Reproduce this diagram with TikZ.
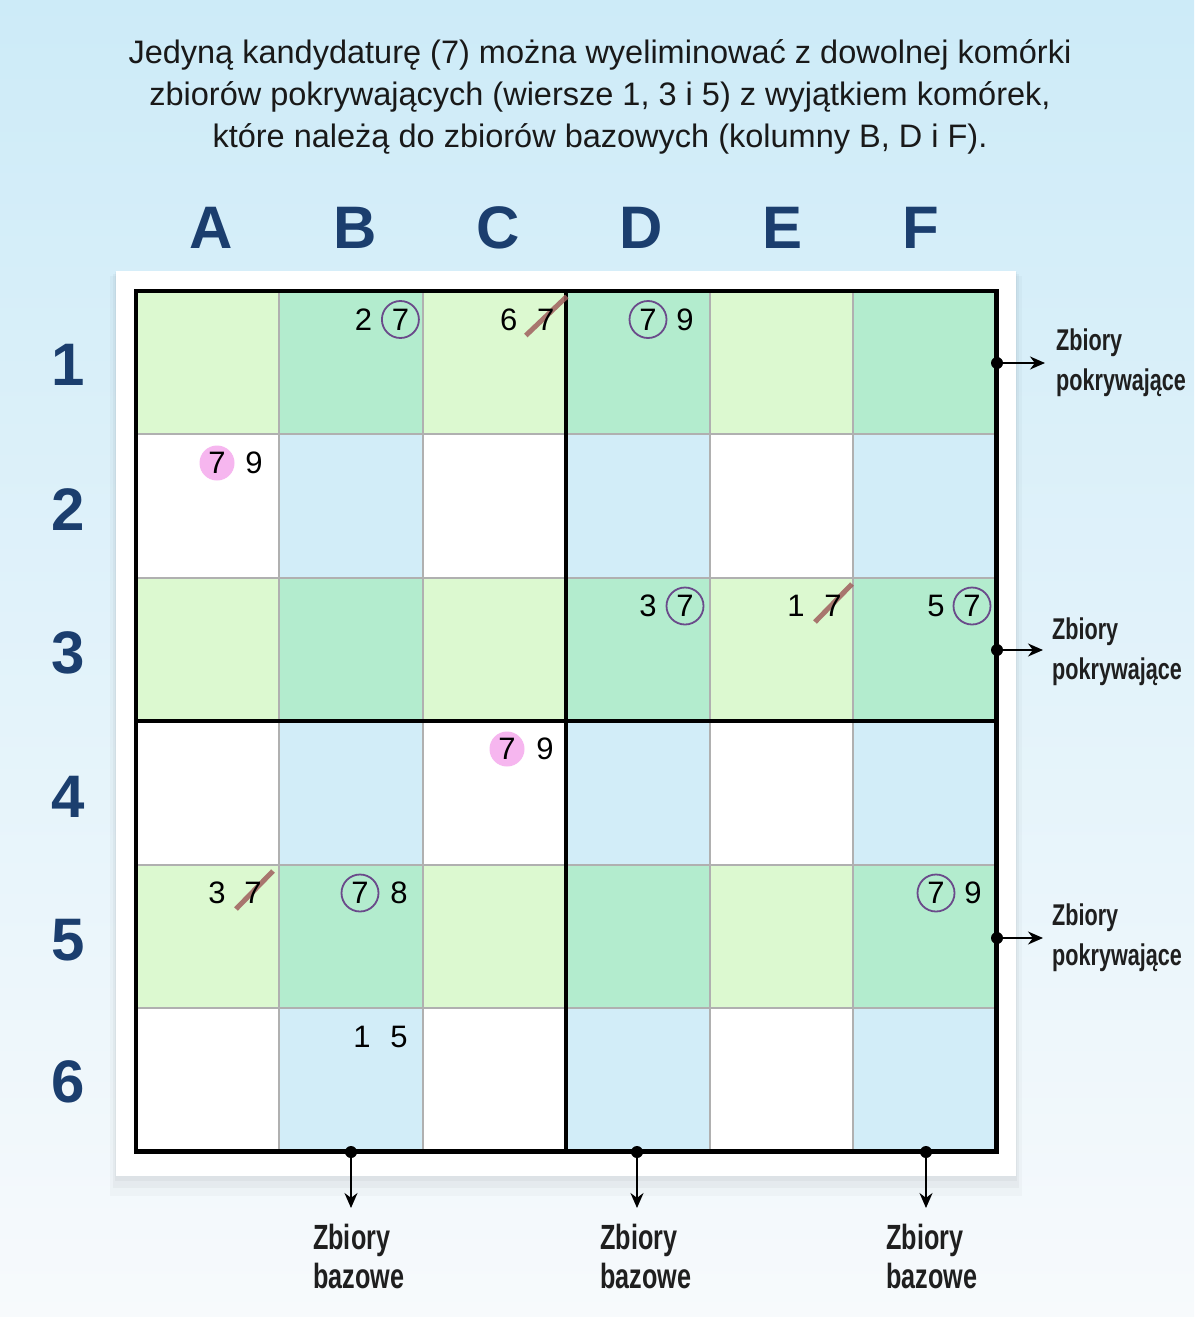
\documentclass[tikz,border=0pt]{standalone}
\usepackage{fontspec}
\setmainfont{Liberation Sans}
\newfontfamily\condfont[FakeStretch=0.72]{Liberation Sans}
\usetikzlibrary{arrows.meta}
\definecolor{bgtop}{HTML}{CDEBF8}
\definecolor{bgbot}{HTML}{F7FAFC}
\definecolor{lgreen}{HTML}{DCF9D0}
\definecolor{dgreen}{HTML}{B3ECCE}
\definecolor{lblue}{HTML}{D2EDF8}
\definecolor{navy}{HTML}{1B3E6E}
\definecolor{circpurple}{HTML}{6A4A8A}
\definecolor{pinkc}{HTML}{F6B6EF}
\definecolor{strikec}{HTML}{A0605E}
\definecolor{gridgrey}{HTML}{B0B0B0}
\tikzset{
  cellbox/.style={minimum width=143.4pt,minimum height=143.4pt,inner sep=0pt,draw=none},
  digit/.style={inner sep=0pt,font=\fontsize{31}{37}\selectfont,text=black},
  circd/.style={digit,circle,draw=circpurple,line width=1.8pt,minimum size=37pt},
  pinkd/.style={digit,circle,fill=pinkc,minimum size=35pt},
  strike/.style={strikec,line width=5pt,opacity=0.85},
  hdr/.style={font=\fontsize{60}{60}\selectfont\bfseries,text=navy,inner sep=0pt},
  sidelab/.style={font=\condfont\bfseries\fontsize{30}{40}\selectfont,align=left,anchor=west,inner sep=0pt,text=black!88},
  botlab/.style={font=\condfont\bfseries\fontsize{35}{39}\selectfont,align=left,anchor=west,inner sep=0pt,text=black!88},
  conn/.style={-{Stealth[length=15pt,width=13pt]},line width=2pt,black},
  dotc/.style={fill=black,circle,inner sep=0pt,minimum size=12pt}
}
\begin{document}
\begin{tikzpicture}[x=1pt,y=-1pt]
\useasboundingbox (0,0) rectangle (1194,1317);
\shade[top color=bgtop,bottom color=bgbot] (0,0) rectangle (1194,1317);
% title
\node[align=center,font=\fontsize{32.5}{42}\selectfont,text=black!90,inner sep=0pt] (title) at (600,97)
 {Jedyną kandydaturę (7) można wyeliminować z dowolnej komórki\\
  zbiorów pokrywających (wiersze 1, 3 i 5) z wyjątkiem komórek,\\
  które należą do zbiorów bazowych (kolumny B, D i F).};
% panel shadow and panel
\fill[black,opacity=0.025] (110,276) rectangle (1022,1196);
\fill[black,opacity=0.03] (113,274) rectangle (1019,1188);
\fill[black,opacity=0.03] (115,272) rectangle (1017,1181);
\fill[white] (116,271) rectangle (1016,1176);
% cells
\foreach \r in {1,...,6}{\foreach \c in {1,...,6}{
  \ifodd\r\relax
    \ifodd\c\relax \def\cc{lgreen}\else\def\cc{dgreen}\fi
  \else
    \ifodd\c\relax \def\cc{white}\else\def\cc{lblue}\fi
  \fi
  \node[cellbox,fill=\cc] (cell\c\r) at ({136+(\c-0.5)*143.4},{291+(\r-0.5)*143.4}) {};
}}
% thin grid lines
\foreach \i in {1,2,4,5}{
  \draw[gridgrey,line width=2pt] ({136+\i*143.4},291) -- ({136+\i*143.4},1151.4);
  \draw[gridgrey,line width=2pt] (136,{291+\i*143.4}) -- (996.4,{291+\i*143.4});
}
% thick lines
\draw[black,line width=4pt] (566.2,291) -- (566.2,1151.4);
\draw[black,line width=4pt] (136,721.2) -- (996.4,721.2);
\draw[black,line width=4.5pt] (136,291) rectangle (996.4,1151.4);
% headers
\node[hdr] (hA) at (211,228) {A};
\node[hdr] (hB) at (355,228) {B};
\node[hdr] (hC) at (498,228) {C};
\node[hdr] (hD) at (641,228) {D};
\node[hdr] (hE) at (783,228) {E};
\node[hdr] (hF) at (921,228) {F};
\node[hdr] (r1) at (68,365) {1};
\node[hdr] (r2) at (68,510) {2};
\node[hdr] (r3) at (68,653) {3};
\node[hdr] (r4) at (68,797) {4};
\node[hdr] (r5) at (68,940) {5};
\node[hdr] (r6) at (68,1082) {6};
% struck-out candidates: strike under the digit
\coordinate (c1s) at (545.8,319.5);
\coordinate (e3s) at (833,606);
\coordinate (a5s) at (253,893);
\draw[strike] ([shift={(-20,16)}]c1s) -- ([shift={(21,-23)}]c1s);
\draw[strike] ([shift={(-18,16)}]e3s) -- ([shift={(19,-22)}]e3s);
\draw[strike] ([shift={(-17,16)}]a5s) -- ([shift={(20,-22)}]a5s);
% candidates
\node[digit] (b1a) at (363.4,319.5) {2};
\node[circd] (b1b) at (400.4,319.5) {7};
\node[digit] (c1a) at (508.8,319.5) {6};
\node[digit] (c1b) at (c1s) {7};
\node[circd] (d1a) at (648,319.5) {7};
\node[digit] (d1b) at (685,319.5) {9};
\node[pinkd] (a2a) at (217,463) {7};
\node[digit] (a2b) at (254,463) {9};
\node[digit] (d3a) at (648,606) {3};
\node[circd] (d3b) at (685,606) {7};
\node[digit] (e3a) at (796,606) {1};
\node[digit] (e3b) at (e3s) {7};
\node[digit] (f3a) at (936,606) {5};
\node[circd] (f3b) at (972,606) {7};
\node[pinkd] (c4a) at (507,749) {7};
\node[digit] (c4b) at (545,749) {9};
\node[digit] (a5a) at (217,893) {3};
\node[digit] (a5b) at (a5s) {7};
\node[circd] (b5a) at (360,893) {7};
\node[digit] (b5b) at (399,893) {8};
\node[circd] (f5a) at (936,893) {7};
\node[digit] (f5b) at (973,893) {9};
\node[digit] (b6a) at (362,1037) {1};
\node[digit] (b6b) at (399,1037) {5};
% side connectors
\node[dotc] (p1) at (997,363) {};
\node[dotc] (p3) at (997,650) {};
\node[dotc] (p5) at (997,938) {};
\node[sidelab] (l1) at (1056,363) {Zbiory\\pokrywające};
\node[sidelab] (l3) at (1052,652) {Zbiory\\pokrywające};
\node[sidelab] (l5) at (1052,938) {Zbiory\\pokrywające};
\coordinate (e1) at (1045,363);
\coordinate (e3) at (1043,650);
\coordinate (e5) at (1043,938);
\draw[conn] (p1) -- (e1);
\draw[conn] (p3) -- (e3);
\draw[conn] (p5) -- (e5);
% bottom connectors
\node[dotc] (qB) at (351,1152) {};
\node[dotc] (qD) at (637,1152) {};
\node[dotc] (qF) at (926,1152) {};
\coordinate (fB) at (351,1208);
\coordinate (fD) at (637,1208);
\coordinate (fF) at (926,1208);
\draw[conn] (qB) -- (fB);
\draw[conn] (qD) -- (fD);
\draw[conn] (qF) -- (fF);
\node[botlab] (mB) at (313,1256) {Zbiory\\bazowe};
\node[botlab] (mD) at (600,1256) {Zbiory\\bazowe};
\node[botlab] (mF) at (886,1256) {Zbiory\\bazowe};
\end{tikzpicture}
\end{document}
